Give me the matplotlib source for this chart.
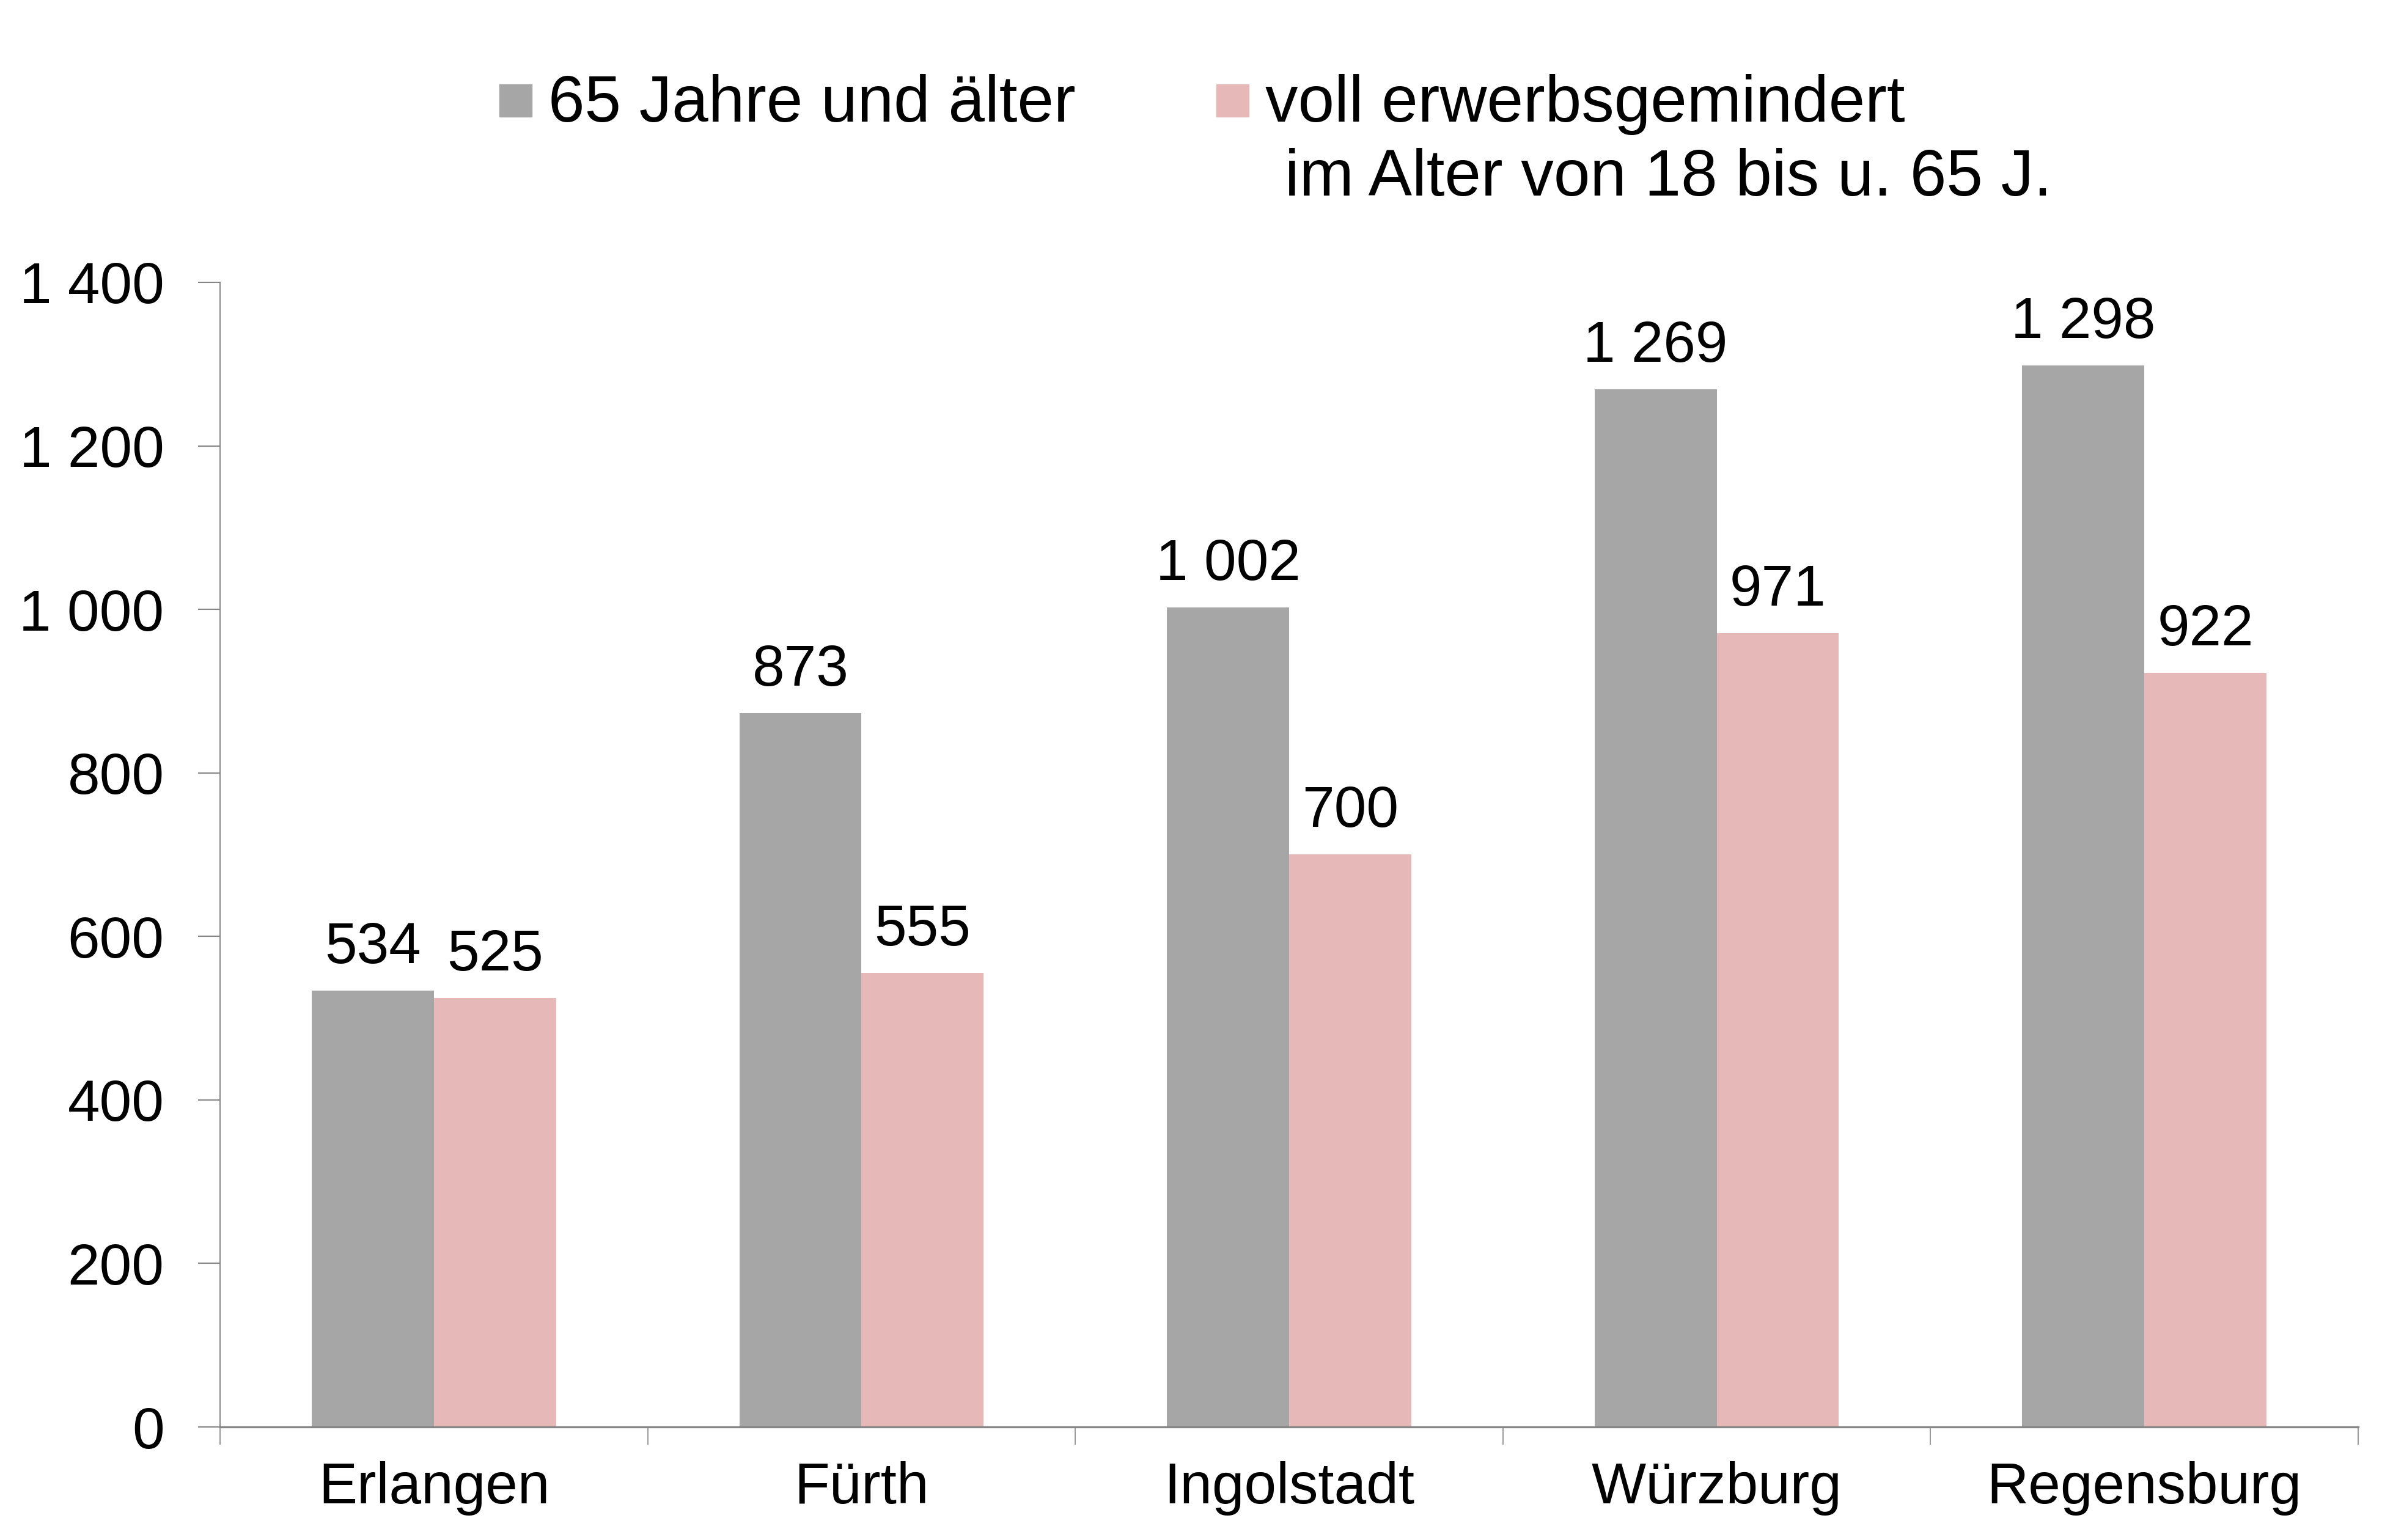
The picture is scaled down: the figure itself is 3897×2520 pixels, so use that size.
import numpy as np
import matplotlib
matplotlib.use("Agg")
import matplotlib.pyplot as plt
from matplotlib.patches import Rectangle
from matplotlib.ticker import FuncFormatter, FixedLocator

plt.rcParams['font.family'] = ['Liberation Sans', 'DejaVu Sans']

cities = ["Erlangen", "Fürth", "Ingolstadt", "Würzburg", "Regensburg"]
alt65 = [534, 873, 1002, 1269, 1298]
erwerb = [525, 555, 700, 971, 922]
label_a = "65 Jahre und älter"
label_b1 = "voll erwerbsgemindert"
label_b2 = "im Alter von 18 bis u. 65 J."

c_gray = "#A6A6A6"
c_pink = "#E6B9B8"
c_axis = "#868686"

def fmt(v):
    return f"{int(round(v)):,}".replace(",", " ")

fig = plt.figure(figsize=(38.98, 25.2), dpi=100, facecolor="white")
ax = fig.add_axes([0.0924, 0.0734, 0.8973, 0.7433])

x = np.arange(len(cities))
w = 80 / 280
b1 = ax.bar(x - w / 2, alt65, w, color=c_gray)
b2 = ax.bar(x + w / 2, erwerb, w, color=c_pink)
for bars in (b1, b2):
    ax.bar_label(bars, labels=[fmt(v) for v in bars.datavalues], padding=18, fontsize=68)

ax.set_xlim(-0.5, len(cities) - 0.5)
ax.set_ylim(0, 1400)
ax.set_yticks(np.arange(0, 1401, 200))
ax.yaxis.set_major_formatter(FuncFormatter(lambda v, p: fmt(v)))
ax.set_xticks(x)
ax.set_xticklabels(cities)
ax.xaxis.set_minor_locator(FixedLocator(np.arange(-0.5, len(cities), 1.0)))

ax.tick_params(axis='y', which='major', length=26, width=1.5, color=c_axis, pad=40, labelsize=68)
ax.tick_params(axis='x', which='major', length=0, pad=40, labelsize=68)
ax.tick_params(axis='x', which='minor', length=21, width=1.2, color=c_axis)

for s in ("top", "right"):
    ax.spines[s].set_visible(False)
ax.spines['left'].set_color(c_axis)
ax.spines['left'].set_linewidth(1.4)
ax.spines['bottom'].set_color(c_axis)
ax.spines['bottom'].set_linewidth(2.4)

# legend, placed by hand to match the reference
W, H = 3898, 2520
fs_leg = 77
fig.patches.append(Rectangle((817 / W, 1 - 191 / H), 53 / W, 53 / H,
                             transform=fig.transFigure, color=c_gray, figure=fig))
fig.text(897 / W, 1 - 199 / H, label_a, fontsize=fs_leg, va='baseline')
fig.patches.append(Rectangle((1990 / W, 1 - 191 / H), 53 / W, 53 / H,
                             transform=fig.transFigure, color=c_pink, figure=fig))
fig.text(2070 / W, 1 - 199 / H, label_b1, fontsize=fs_leg, va='baseline')
fig.text(2102 / W, 1 - 320 / H, label_b2, fontsize=fs_leg, va='baseline')

fig.savefig("out.png", dpi=100, facecolor="white")
